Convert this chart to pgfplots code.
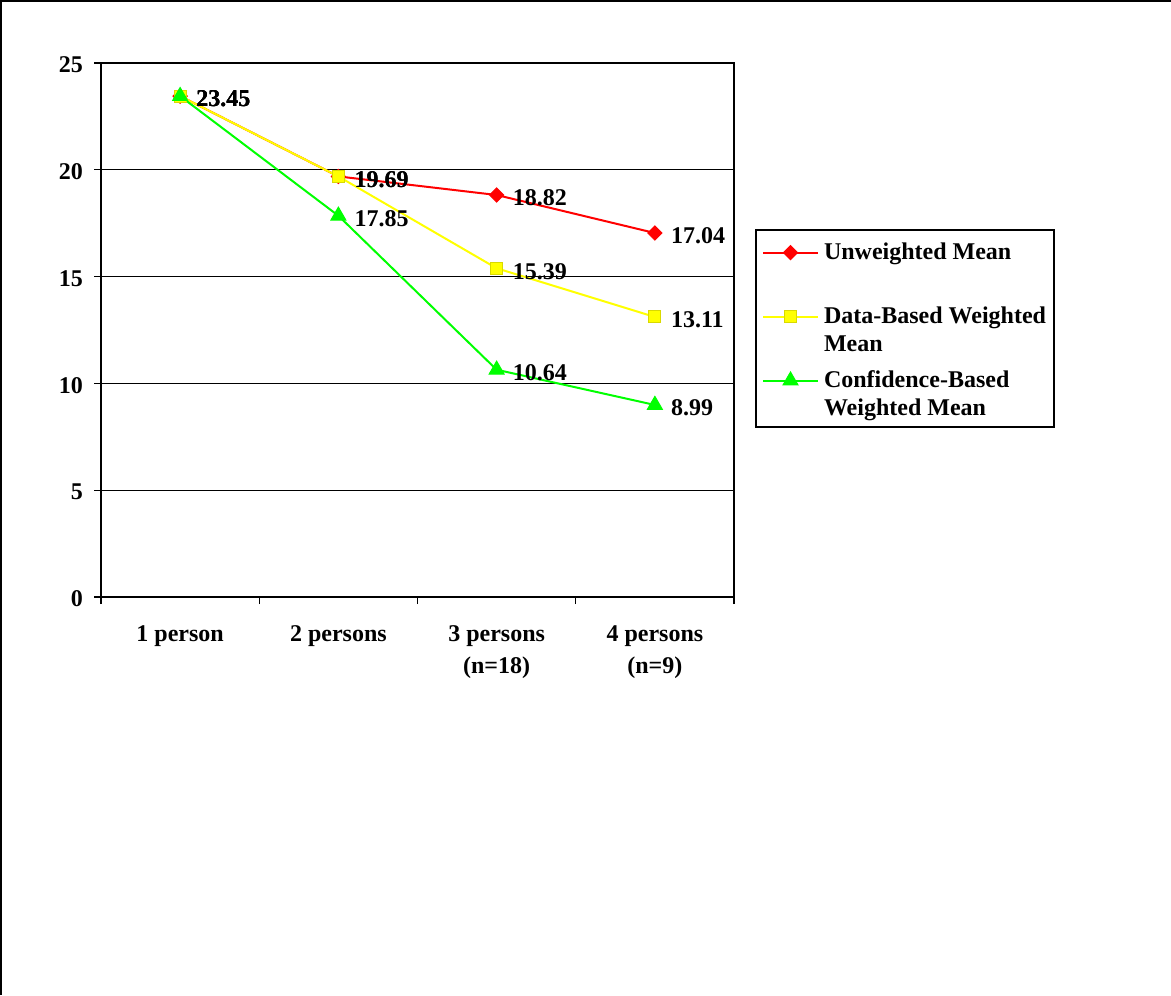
\documentclass[border=0pt]{standalone}
\usepackage{pgfplots}
\pgfplotsset{compat=1.18}
\usepackage{fontspec}
\setmainfont{Liberation Serif}

% strut used for every legend line, so that all entries share one pitch
\newcommand\lstrut{\rule[-2pt]{0pt}{12pt}}

\definecolor{serRed}{RGB}{255,0,0}
\definecolor{serYellow}{RGB}{255,255,0}
\definecolor{serGreen}{RGB}{0,255,0}

\begin{document}
\begin{tikzpicture}[font=\fontsize{12}{14}\selectfont\bfseries]
\useasboundingbox (0,0) rectangle (585.5pt,-497.5pt);
% frame around the chart area
\draw[line width=1.2pt] (0.6pt,-497.5pt) -- (0.6pt,-0.6pt) -- (585.5pt,-0.6pt);
\begin{axis}[
  at={(50.5pt,-31.5pt)}, anchor=north west,
  scale only axis, width=316.5pt, height=267pt,
  xmin=0.5, xmax=4.5, ymin=0, ymax=25,
  /pgf/number format/assume math mode=true,
  xtick={1,2,3,4},
  xticklabels={1 person, 2 persons, {3 persons\\(n=18)}, {4 persons\\(n=9)}},
  xticklabel style={align=center, anchor=north, yshift=-7.5pt,
    font=\fontsize{12}{16}\selectfont\bfseries},
  major x tick style={draw=none},
  minor xtick={0.5,1.5,2.5,3.5,4.5},
  ytick={0,5,10,15,20,25},
  yticklabel style={anchor=east, xshift=-2pt, yshift=-1pt},
  tick align=outside,
  xtick pos=bottom, ytick pos=left,
  major tick length=3.5pt, minor tick length=3.5pt,
  tick style={black, line width=0.6pt},
  ymajorgrids,
  grid style={black, line width=0.6pt},
  axis line style={black, line width=1pt},
  point meta=y,
  nodes near coords={\pgfmathprintnumber[fixed,fixed zerofill,precision=2]{\pgfplotspointmeta}},
  every node near coord/.append style={anchor=west, xshift=4.5pt, yshift=-1.5pt, black},
  legend cell align=left,
  % sample raised to the first line of its two-line entry
  legend image code/.code={
    \draw[mark repeat=2, mark phase=2] plot coordinates {(0pt,6pt) (13.75pt,6pt) (27.5pt,6pt)};},
  legend style={at={(1.0332,0.689)}, anchor=north west, draw=black, line width=1pt,
    row sep=4.5pt, column sep=1.5pt, inner xsep=3pt, inner ysep=3.5pt,
    nodes={inner sep=1pt, align=left}},
]
\addplot[serRed, line width=1pt, mark=square*, mark size=2.5pt,
  mark options={rotate=45, fill=serRed, line width=0.5pt}]
  coordinates {(1,23.45) (2,19.69) (3,18.82) (4,17.04)};
\addlegendentry{\lstrut Unweighted Mean\\\lstrut}
\addplot[serYellow, line width=1pt, mark=square*, mark size=3pt,
  mark options={fill=serYellow, draw=serYellow!85!black, line width=0.5pt}]
  coordinates {(1,23.45) (2,19.69) (3,15.39) (4,13.11)};
\addlegendentry{\lstrut Data-Based Weighted\\\lstrut Mean}
\addplot[serGreen, line width=1pt, mark=triangle*, mark size=4.3pt,
  mark options={fill=serGreen, line width=0.5pt}]
  coordinates {(1,23.45) (2,17.85) (3,10.64) (4,8.99)};
\addlegendentry{\lstrut Confidence-Based\\\lstrut Weighted Mean}
\end{axis}
\end{tikzpicture}
\end{document}
